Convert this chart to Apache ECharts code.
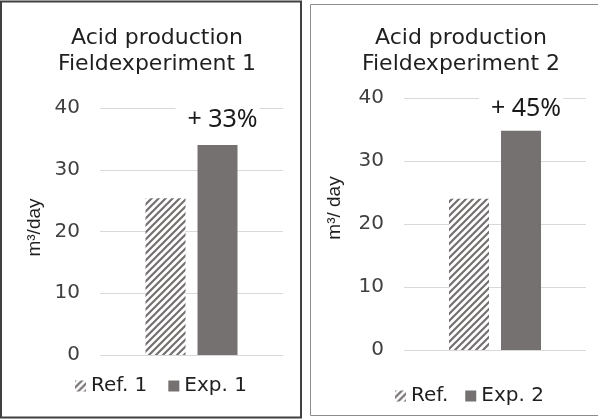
<!DOCTYPE html>
<html>
<head>
<meta charset="utf-8">
<script src="https://cdn.jsdelivr.net/npm/echarts@6/dist/echarts.min.js"></script>
<style>
  html, body { margin: 0; padding: 0; background: #fff; }
  #chart { width: 598px; height: 420px; }
</style>
</head>
<body>
<div id="chart"></div>
<script>
// ---- data ----
const categories = ['Acid production'];
const titles = ['Acid production\nFieldexperiment 1', 'Acid production\nFieldexperiment 2'];
const yAxisNames = ['m³/day', 'm³/ day'];
const refNames = ['Ref. 1', 'Ref.'];
const expNames = ['Exp. 1', 'Exp. 2'];
const ref1 = [25.4];
const exp1 = [34.0];
const ref2 = [24.0];
const exp2 = [34.8];
const increaseLabels1 = ['+ 33%'];
const increaseLabels2 = ['+ 45%'];
const yMin = 0, yMax = 40, yStep = 10;

// ---- styles ----
const barGray = '#767171';
const gridGray = '#d9d9d9';
const textDark = '#1f1f1f';

function hatch() {
  const s = 7;
  const c = document.createElement('canvas');
  c.width = s; c.height = s;
  const ctx = c.getContext('2d');
  ctx.fillStyle = '#fff';
  ctx.fillRect(0, 0, s, s);
  ctx.strokeStyle = barGray;
  ctx.lineWidth = 2.2;
  ctx.beginPath();
  ctx.moveTo(-1, s + 1); ctx.lineTo(s + 1, -1);
  ctx.moveTo(-1, 1); ctx.lineTo(1, -1);
  ctx.moveTo(s - 1, s + 1); ctx.lineTo(s + 1, s - 1);
  ctx.stroke();
  return { image: c, repeat: 'repeat' };
}
const hatchPattern = hatch();

const grids = [
  { left: 100, top: 108, width: 183, height: 247 },
  { left: 404, top: 98, width: 182, height: 252 }
];

function yAxis(i, gap, pad) {
  return {
    type: 'value', gridIndex: i, min: yMin, max: yMax, interval: yStep,
    name: yAxisNames[i], nameLocation: 'middle', nameRotate: 90, nameGap: gap,
    nameTextStyle: { fontFamily: 'Liberation Sans', fontSize: 19, color: textDark, padding: pad },
    axisLine: { show: false }, axisTick: { show: false },
    axisLabel: { fontFamily: 'DejaVu Sans', fontSize: 20, color: '#404040', margin: 20 },
    splitLine: { lineStyle: { color: gridGray, width: 1 } }
  };
}
function xAxis(i) {
  return {
    type: 'category', gridIndex: i, data: categories,
    axisLine: { show: false }, axisTick: { show: false }, axisLabel: { show: false }
  };
}
function pctLabel(arr, dist) {
  return {
    show: true, position: 'top', distance: dist,
    formatter: p => arr[p.dataIndex],
    fontFamily: 'Noto Sans', fontSize: 25, color: '#1a1a1a',
    backgroundColor: '#fff', padding: [0, 2, 0, 12]
  };
}

const option = {
  animation: false,
  backgroundColor: '#fff',
  title: [
    { text: titles[0], left: 152, top: 20, textAlign: 'center',
      textStyle: { fontFamily: 'DejaVu Sans', fontSize: 22, fontWeight: 'normal', color: textDark, lineHeight: 26 } },
    { text: titles[1], left: 456, top: 20, textAlign: 'center',
      textStyle: { fontFamily: 'DejaVu Sans', fontSize: 22, fontWeight: 'normal', color: textDark, lineHeight: 26 } }
  ],
  legend: [
    { data: [refNames[0], expNames[0]], left: 70, top: 371, itemWidth: 11, itemHeight: 11, itemGap: 21,
      icon: 'rect', textStyle: { fontFamily: 'DejaVu Sans', fontSize: 20, color: textDark } },
    { data: [refNames[1], expNames[1]], left: 390, top: 381, itemWidth: 11, itemHeight: 11, itemGap: 17,
      icon: 'rect', textStyle: { fontFamily: 'DejaVu Sans', fontSize: 20, color: textDark } }
  ],
  grid: grids,
  xAxis: [xAxis(0), xAxis(1)],
  yAxis: [yAxis(0, 56, [0, 0, 0, 8]), yAxis(1, 60, [0, 0, 0, 32])],
  series: [
    { type: 'bar', name: refNames[0], xAxisIndex: 0, yAxisIndex: 0, data: ref1,
      barWidth: 40, barGap: '30%', itemStyle: { color: hatchPattern } },
    { type: 'bar', name: expNames[0], xAxisIndex: 0, yAxisIndex: 0, data: exp1,
      barWidth: 40, barGap: '30%', itemStyle: { color: barGray }, label: pctLabel(increaseLabels1, 13) },
    { type: 'bar', name: refNames[1], xAxisIndex: 1, yAxisIndex: 1, data: ref2,
      barWidth: 40, barGap: '30%', itemStyle: { color: hatchPattern } },
    { type: 'bar', name: expNames[1], xAxisIndex: 1, yAxisIndex: 1, data: exp2,
      barWidth: 40, barGap: '30%', itemStyle: { color: barGray }, label: pctLabel(increaseLabels2, 9) }
  ],
  graphic: [
    { type: 'rect', shape: { x: 1, y: 1.5, width: 300, height: 416 }, silent: true,
      style: { fill: null, stroke: '#404040', lineWidth: 2 }, z: 100 },
    { type: 'rect', shape: { x: 310.5, y: 4.5, width: 292, height: 411 }, silent: true,
      style: { fill: null, stroke: '#8c8c8c', lineWidth: 1 }, z: 100 }
  ]
};

const chart = echarts.init(document.getElementById('chart'), null, { renderer: 'canvas' });
chart.setOption(option);
</script>
</body>
</html>
